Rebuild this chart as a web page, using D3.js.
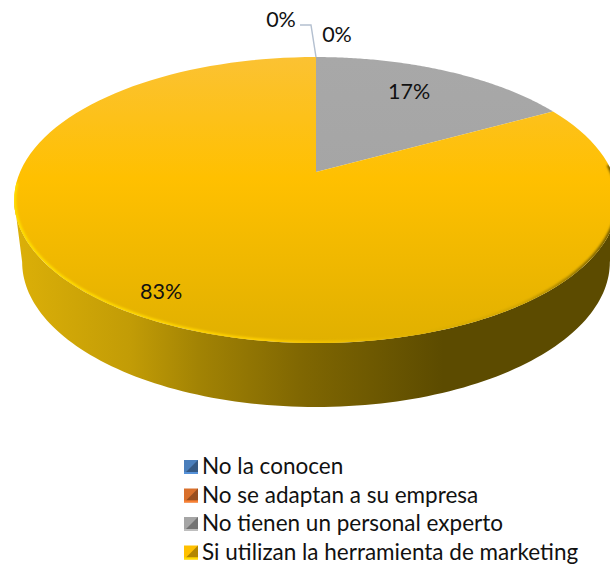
<!DOCTYPE html>
<html>
<head>
<meta charset="utf-8">
<script src="https://cdn.jsdelivr.net/npm/d3@7"></script>
<style>
  html, body { margin: 0; padding: 0; background: #fff; }
  svg { display: block; }
  text { font-family: Lato, "Open Sans", sans-serif; fill: #111; }
</style>
</head>
<body>
<div id="chart"></div>
<script>
const categories = ["No la conocen", "No se adaptan a su empresa", "No tienen un personal experto", "Si utilizan la herramienta de marketing"];
const valores = [0, 0, 17, 83];
const etiquetas = ["0%", "0%", "17%", "83%"];

const colores = ["#4a7ebb", "#d9702c", "#a5a5a5", "#ffc000"];
const coloresClaros = ["#5b9bd5", "#f08a45", "#a8a8a8", "#fbc233"];
const coloresOscuros = ["#3a6a9e", "#b85f24", "#989898", "#e0b000"];
const ladoColores = [
  ["#3f6f9f", "#20384f"],
  ["#b5602a", "#5a3014"],
  ["#8a8a8a", "#454545"],
  ["#dcb008", "#5c4b00"]
];
// radio relativo y ajuste de cada etiqueta respecto al centro
const etiquetaRadio = [1, 1, 0.69, 0.876];
const etiquetaAjuste = [[-35, -38], [21, -23], [0, -8], [0, -3]];

const width = 610, height = 567;
const apex = { x: 316, y: 172 };
const rx = 296, ry = 137.5, k = 0.196;   // perspectiva del disco
const fondo = { dy: 62, sx: 294 / 302, sy: 145 / 143 };
const cyTapa = 200;

// punto del disco en perspectiva: a = angulo desde arriba en sentido horario
function punto(a, r = 1) {
  const u = Math.sin(a) * r, v = -Math.cos(a) * r;
  const d = 1 - k * v;
  return [apex.x + rx * u / d, apex.y + ry * v / d];
}
function puntoFondo(a) {
  const p = punto(a);
  return [apex.x + (p[0] - apex.x) * fondo.sx, cyTapa + fondo.dy + (p[1] - cyTapa) * fondo.sy];
}

const svg = d3.select("#chart").append("svg").attr("width", width).attr("height", height);
const defs = svg.append("defs");

const pie = d3.pie().sort(null).value(d => d);
const arcos = pie(valores);
const linea = d3.line();

function muestras(a0, a1) {
  return d3.range(0, 121).map(i => a0 + (a1 - a0) * i / 120);
}

// degradados
colores.forEach((c, i) => {
  const g = defs.append("linearGradient").attr("id", "tapa" + i)
    .attr("gradientUnits", "userSpaceOnUse")
    .attr("x1", 0).attr("x2", 0).attr("y1", 57).attr("y2", 345);
  g.append("stop").attr("offset", 0).attr("stop-color", coloresClaros[i]);
  g.append("stop").attr("offset", 0.42).attr("stop-color", c);
  g.append("stop").attr("offset", 1).attr("stop-color", coloresOscuros[i]);

  const mezcla = d3.interpolateRgb(ladoColores[i][0], ladoColores[i][1]);
  const s = defs.append("linearGradient").attr("id", "lado" + i)
    .attr("gradientUnits", "userSpaceOnUse")
    .attr("x1", 14).attr("x2", 610).attr("y1", 0).attr("y2", 0);
  s.append("stop").attr("offset", 0).attr("stop-color", ladoColores[i][0]);
  s.append("stop").attr("offset", 0.195).attr("stop-color", mezcla(0.2));
  s.append("stop").attr("offset", 0.31).attr("stop-color", mezcla(0.45));
  s.append("stop").attr("offset", 0.48).attr("stop-color", mezcla(0.72));
  s.append("stop").attr("offset", 0.72).attr("stop-color", mezcla(1));
  s.append("stop").attr("offset", 1).attr("stop-color", ladoColores[i][1]);
});

const brillo = defs.append("linearGradient").attr("id", "brillo")
  .attr("gradientUnits", "userSpaceOnUse")
  .attr("x1", 14).attr("x2", 610).attr("y1", 0).attr("y2", 0);
brillo.append("stop").attr("offset", 0).attr("stop-color", "#ffe000");
brillo.append("stop").attr("offset", 0.42).attr("stop-color", "#ffd000");
brillo.append("stop").attr("offset", 0.62).attr("stop-color", "#e6b600");
brillo.append("stop").attr("offset", 0.85).attr("stop-color", "#d0a400");
brillo.append("stop").attr("offset", 1).attr("stop-color", "#6e5800");

defs.append("filter").attr("id", "suave").attr("x", "-5%").attr("y", "-5%").attr("width", "110%").attr("height", "110%")
  .append("feGaussianBlur").attr("stdDeviation", 1.1);

// lado visible del cilindro
const fIni = Math.acos(-k), fFin = 2 * Math.PI - fIni;
arcos.forEach((d, i) => {
  const a0 = Math.max(d.startAngle, fIni), a1 = Math.min(d.endAngle, fFin);
  if (a1 <= a0) return;
  const pts = muestras(a0, a1).map(a => punto(a)).concat(muestras(a0, a1).reverse().map(puntoFondo));
  svg.append("path").attr("d", linea(pts) + "Z").attr("fill", `url(#lado${i})`);
});

// tapa
const gTapa = svg.append("g");
arcos.forEach((d, i) => {
  if (d.endAngle <= d.startAngle) return;
  const pts = [[apex.x, apex.y]].concat(muestras(d.startAngle, d.endAngle).map(a => punto(a)));
  gTapa.append("path").attr("d", linea(pts) + "Z").attr("fill", `url(#tapa${i})`);
});

// bisel del borde delantero
svg.append("clipPath").attr("id", "clipTapa").append("path")
  .attr("d", linea(muestras(0, 2 * Math.PI).map(a => punto(a))) + "Z");
svg.append("g").attr("clip-path", "url(#clipTapa)").append("path")
  .attr("d", linea(muestras(fIni - 0.25, fFin + 0.12).map(a => punto(a))))
  .attr("fill", "none").attr("stroke", "url(#brillo)").attr("stroke-width", 4)
  .attr("filter", "url(#suave)");

// linea guia de la primera etiqueta
const pGuia = punto(arcos[0].startAngle, 1);
svg.append("path")
  .attr("d", linea([[pGuia[0] - 16, pGuia[1] - 32], [pGuia[0] - 5, pGuia[1] - 32], pGuia]))
  .attr("fill", "none").attr("stroke", "#b4c0d0").attr("stroke-width", 1.4);

// etiquetas
arcos.forEach((d, i) => {
  const p = punto((d.startAngle + d.endAngle) / 2, etiquetaRadio[i]);
  svg.append("text")
    .attr("x", p[0] + etiquetaAjuste[i][0])
    .attr("y", p[1] + etiquetaAjuste[i][1])
    .attr("text-anchor", "middle").attr("dominant-baseline", "central")
    .attr("font-size", 21.5)
    .text(etiquetas[i]);
});

// leyenda
const yLeyenda = d3.scalePoint().domain(categories).range([466, 551.5]);
const lado = 14, xLeyenda = 184;
const filas = svg.append("g").selectAll("g").data(categories).join("g")
  .attr("transform", d => `translate(${xLeyenda},${yLeyenda(d) - lado / 2 + 1})`);
filas.each(function (d, i) {
  const g = d3.select(this), c = d3.color(colores[i]);
  const borde = 2;
  const caras = [
    [[[0, 0], [lado, 0], [lado, lado], [0, lado]], c],
    [[[lado, 0], [lado, lado - borde], [borde, lado - borde]], c.darker(1)],
    [[[0, lado - borde], [lado, lado - borde], [lado, lado], [0, lado]], c.brighter(0.4)]
  ];
  caras.forEach(f => g.append("path").attr("d", linea(f[0]) + "Z").attr("fill", f[1]));
});
svg.append("g").selectAll("text").data(categories).join("text")
  .attr("x", 202)
  .attr("y", d => yLeyenda(d) - 0.5)
  .attr("dominant-baseline", "central")
  .attr("font-size", 22.5)
  .text(d => d);
</script>
</body>
</html>
